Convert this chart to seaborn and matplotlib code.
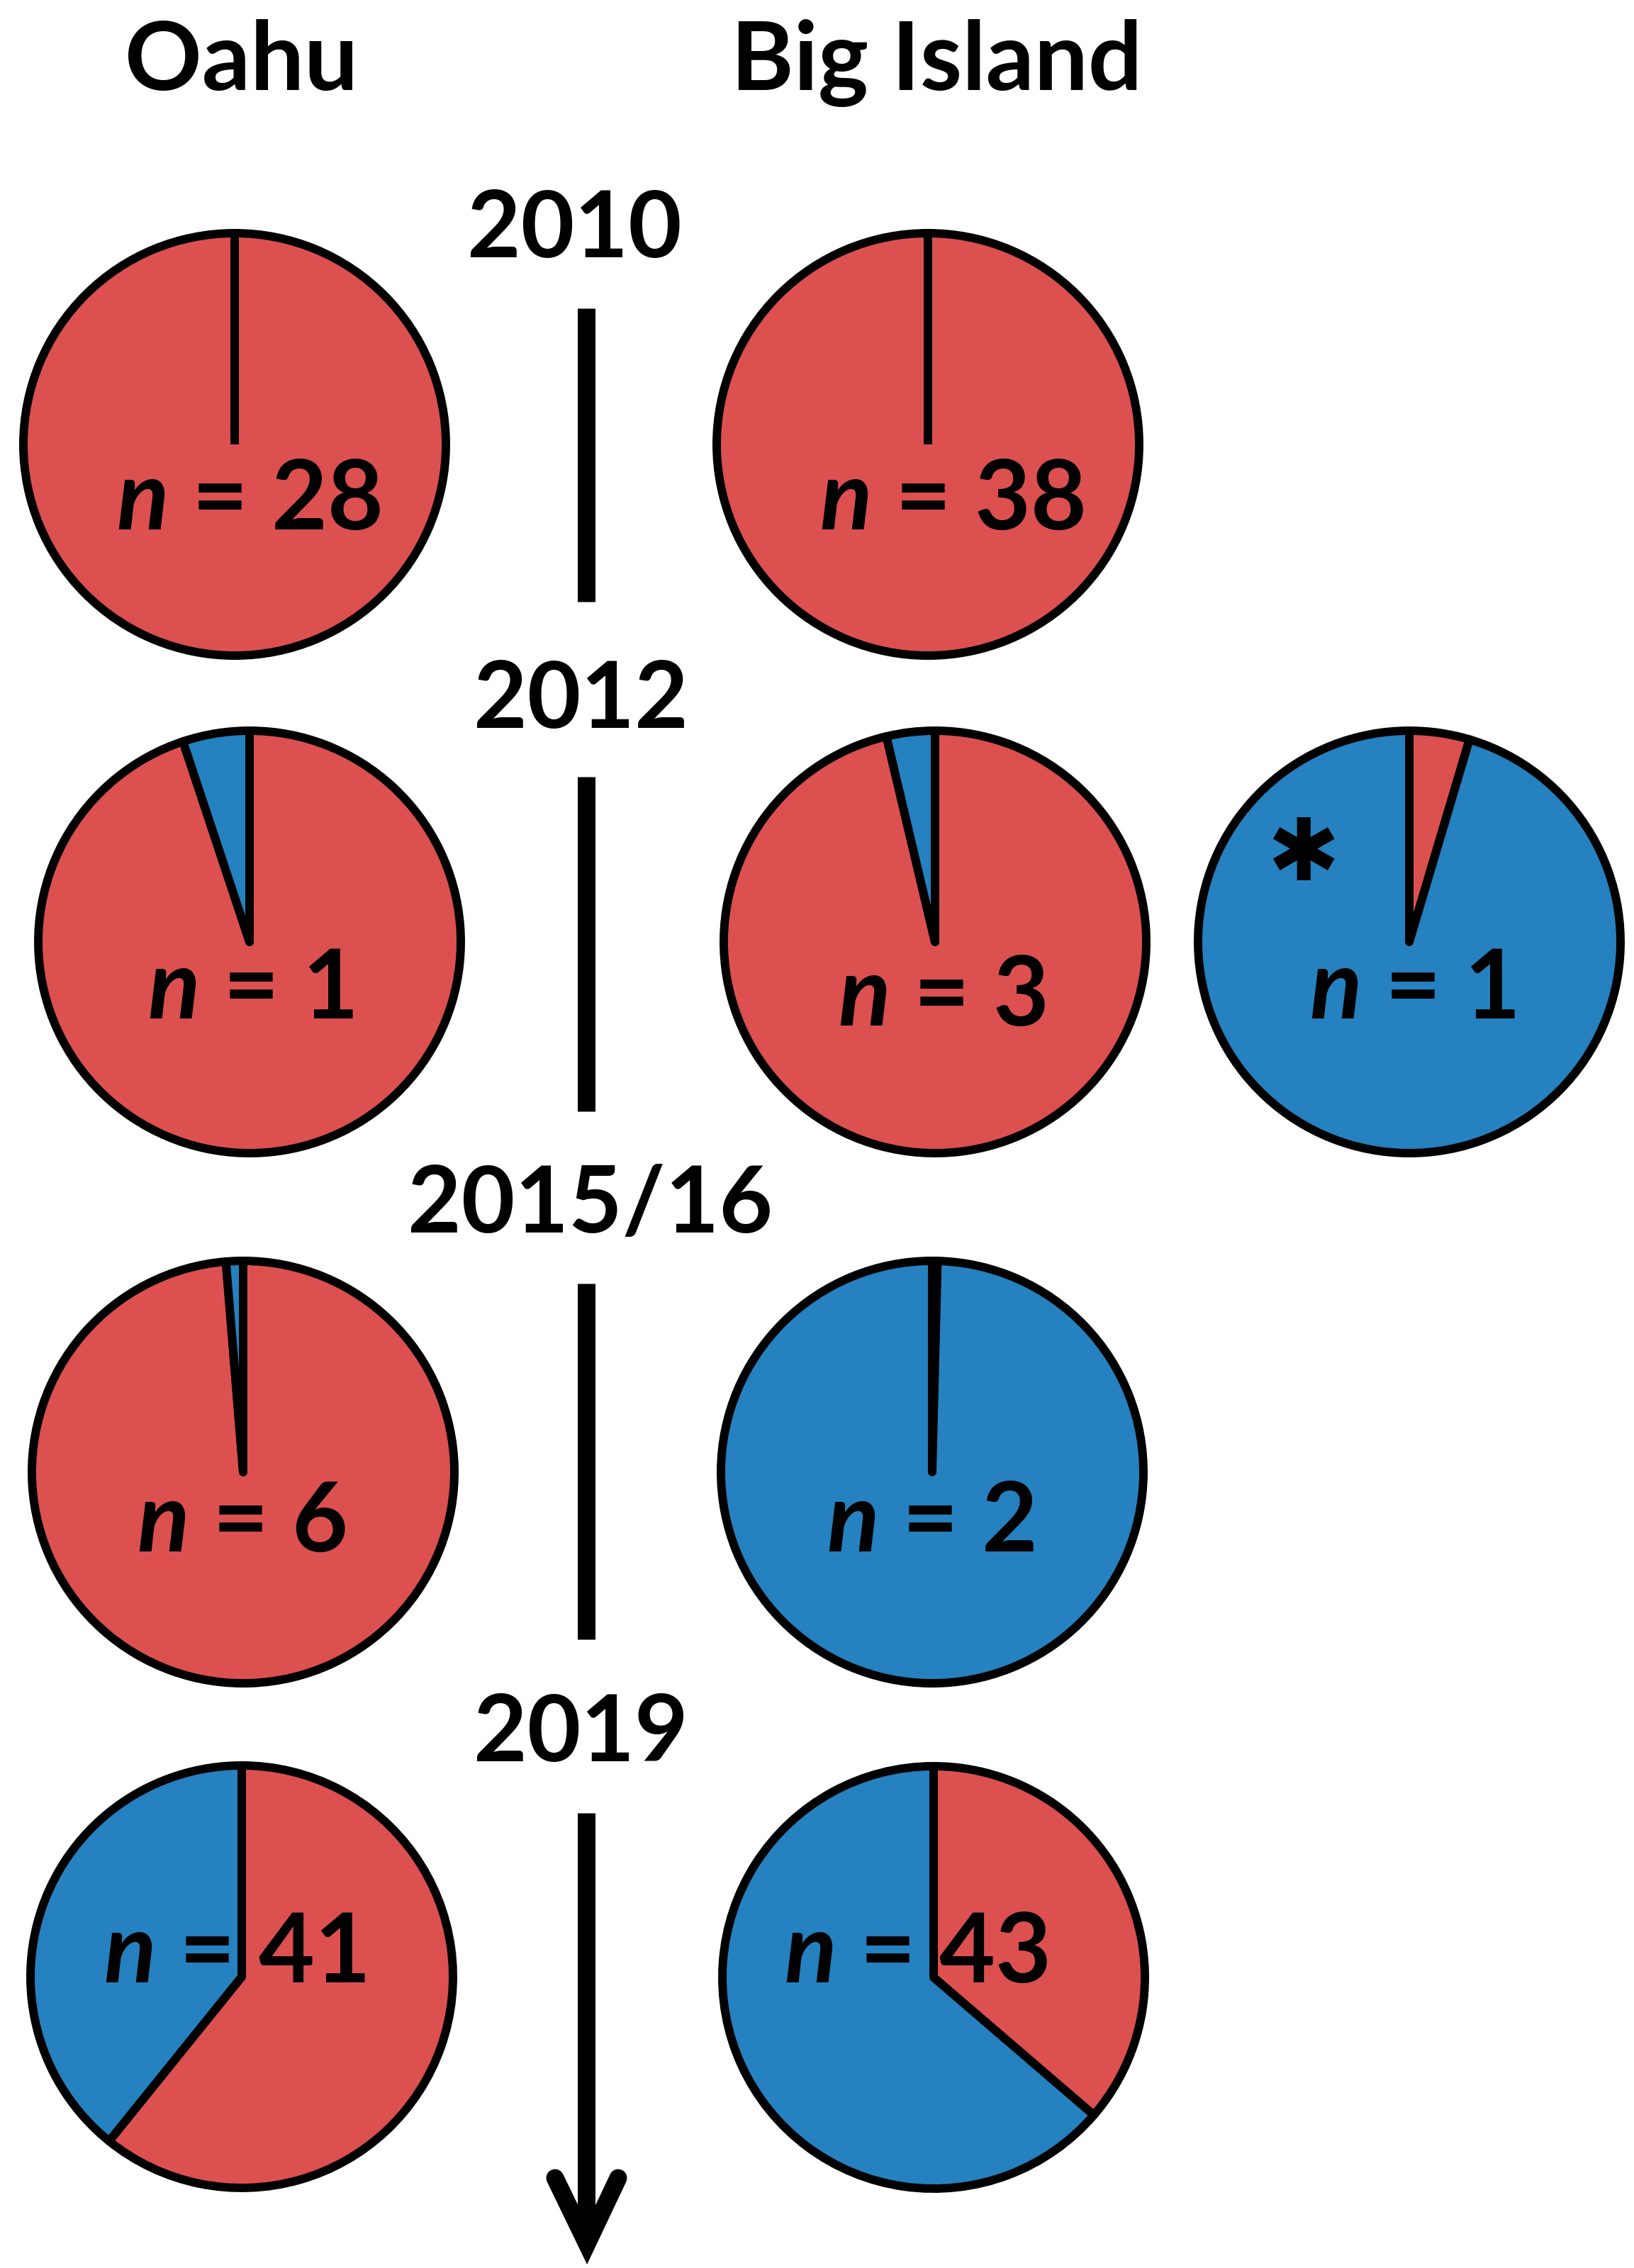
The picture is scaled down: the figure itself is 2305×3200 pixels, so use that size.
import matplotlib
matplotlib.use("Agg")
import matplotlib.pyplot as plt
import seaborn as sns

# ---------------- data ----------------
islands = ["Oahu", "Big Island"]
years = ["2010", "2012", "2015/16", "2019"]
pie_names = ["Oahu 2010", "Big Island 2010", "Oahu 2012", "Big Island 2012",
             "Big Island 2012 (*)", "Oahu 2015/16", "Big Island 2015/16",
             "Oahu 2019", "Big Island 2019"]
red_frac = [1.0, 1.0, 0.949, 0.963, 0.046, 0.987, 0.004, 0.608, 0.363]
blue_frac = [0.0, 0.0, 0.051, 0.037, 0.954, 0.013, 0.996, 0.392, 0.637]
n_values = [28, 38, 1, 3, 1, 6, 2, 41, 43]
starred = [False, False, False, False, True, False, False, False, False]

# ---------------- layout (image pixel coords, y down) ----------------
W, H = 2305, 3200
pie_cx = [331, 1309, 352, 1319, 1988, 343, 1315, 341, 1317]
pie_cy = [627, 627, 1329, 1329, 1329, 2077, 2077, 2789, 2790]
pie_r = 298
lab_x = [351, 1343, 354, 1329, 1993, 341, 1313, 331, 1292]
lab_y = [747, 747, 1437, 1447, 1437, 2189, 2189, 2797, 2797]
title_x = [341, 1321]
title_y = 127
year_x = [810, 819, 833, 819]
year_y = [363, 1027, 1739, 2485]
seg_x = 827
seg_y = [(435, 849), (1096, 1568), (1811, 2313), (2558, 3150)]
arrow_pts = [(783, 3073), (828, 3166), (872, 3073)]
star_xy = (1838, 1208)

RED = "#DD5050"
BLUE = "#2581BF"

sns.set_theme(style="white")
plt.rcParams["font.family"] = ["Lato", "DejaVu Sans"]
plt.rcParams["mathtext.fontset"] = "custom"
plt.rcParams["mathtext.it"] = "Lato:italic:bold"
plt.rcParams["mathtext.rm"] = "Lato:bold"
plt.rcParams["mathtext.bf"] = "Lato:bold"

fig = plt.figure(figsize=(W / 100, H / 100), dpi=100)
ax = fig.add_axes([0, 0, 1, 1])
ax.set_xlim(0, W)
ax.set_ylim(0, H)
ax.set_aspect("equal")
ax.axis("off")

def Y(y):
    return H - y

for i in range(len(pie_names)):
    ax.pie([red_frac[i], blue_frac[i]], colors=[RED, BLUE],
           startangle=90, counterclock=False,
           center=(pie_cx[i], Y(pie_cy[i])), radius=pie_r, normalize=True,
           wedgeprops=dict(edgecolor="black", linewidth=8.6, joinstyle="round"))
    ax.text(lab_x[i], Y(lab_y[i]), r"$n$ = %d" % n_values[i],
            ha="center", va="baseline", fontsize=98, fontweight="bold",
            color="black")
    if starred[i]:
        ax.text(star_xy[0], Y(star_xy[1]), "\u2731", ha="center",
                va="center", fontsize=88, fontweight="bold",
                family=["DejaVu Sans"], color="black")

ax.set_xlim(0, W)
ax.set_ylim(0, H)

for j, name in enumerate(islands):
    ax.text(title_x[j], Y(title_y), name, ha="center", va="baseline",
            fontsize=97, fontweight="bold", color="black")

for j, yr in enumerate(years):
    ax.text(year_x[j], Y(year_y[j]), yr, ha="center", va="baseline",
            fontsize=94, fontweight="bold", color="black")

for (y0, y1) in seg_y:
    ax.plot([seg_x, seg_x], [Y(y0), Y(y1)], color="black", linewidth=18,
            solid_capstyle="butt")
ax.plot([p[0] for p in arrow_pts], [Y(p[1]) for p in arrow_pts],
        color="black", linewidth=18, solid_capstyle="round",
        solid_joinstyle="miter")

fig.savefig("out.png", dpi=100, facecolor="white")
